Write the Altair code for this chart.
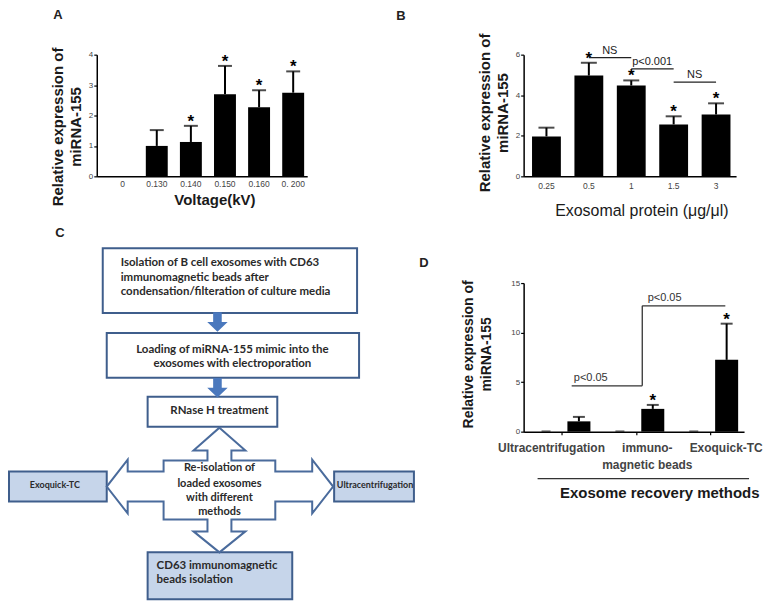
import altair as alt
import pandas as pd

FONT = "Liberation Sans"
FLOW_FONT = "Lato"

# ---------------- Panel A : voltage ----------------
a_voltage = ["0", "0.130", "0.140", "0.150", "0.160", "0. 200"]
a_mean = [0.0, 1.00, 1.13, 2.70, 2.27, 2.75]
a_err = [0.0, 0.52, 0.53, 0.93, 0.56, 0.70]
a_star = ["", "", "*", "*", "*", "*"]

# ---------------- Panel B : exosomal protein ----------------
b_protein = ["0.25", "0.5", "1", "1.5", "3"]
b_mean = [1.97, 4.97, 4.48, 2.56, 3.05]
b_err = [0.43, 0.63, 0.25, 0.40, 0.55]
b_star = ["", "*", "*", "*", "*"]
b_cmp_from = ["0.5", "1", "1.5"]
b_cmp_to = ["1", "1.5", "3"]
b_cmp_level = [5.85, 5.30, 4.65]
b_cmp_label = ["NS", "p<0.001", "NS"]

# ---------------- Panel D : recovery methods ----------------
d_methods = ["Ultracentrifugation", "immuno-magnetic beads", "Exoquick-TC"]
d_control = [0.05, 0.05, 0.05]
d_loaded = [1.04, 2.30, 7.25]
d_loaded_err = [0.45, 0.40, 3.65]
d_star = ["", "*", "*"]
d_cmp_from = ["Ultracentrifugation", "immuno-magnetic beads"]
d_cmp_to = ["immuno-magnetic beads", "Exoquick-TC"]
d_cmp_level = [4.63, 12.7]
d_cmp_label = ["p<0.05", "p<0.05"]

# ---------------- Panel C : flow chart (diagram units) ----------------
flow_box_x1 = [103, 107, 148, 9, 335, 148]
flow_box_y1 = [248, 333, 397, 472, 472, 553]
flow_box_x2 = [358, 360, 278, 107, 415, 293]
flow_box_y2 = [313, 378, 427, 502, 502, 600]
flow_box_kind = ["step", "step", "step", "method", "method", "method"]

flow_cross_x = [220, 246, 232, 232, 276, 276, 313, 313, 334, 313, 313, 276, 276, 232, 232, 246,
                220, 194, 208, 208, 164, 164, 128, 128, 107, 128, 128, 164, 164, 208, 208, 194]
flow_cross_y = [428, 451, 451, 461, 461, 472, 472, 460, 487, 514, 502, 502, 520, 520, 532, 532,
                553, 532, 532, 520, 520, 502, 502, 514, 487, 460, 472, 472, 461, 461, 451, 451]

flow_arrow_x = [218, 218]
flow_arrow_y = [322, 388]

# step-box texts, left aligned
flow_left_text = ["Isolation of B cell exosomes with CD63", "immunomagnetic beads after",
                  "condensation/filteration of culture media", "CD63 immunomagnetic", "beads isolation"]
flow_left_x = [121, 121, 121, 157, 157]
flow_left_y = [263, 277.5, 292, 567, 581]

# step-box texts, centred
flow_step_text = ["Loading of miRNA-155 mimic into the", "exosomes with electroporation",
                  "RNase H treatment"]
flow_step_x = [233, 233, 220]
flow_step_y = [350, 364.5, 411]

# text inside the four-way arrow
flow_cross_text = ["Re-isolation of", "loaded exosomes", "with different", "methods"]
flow_cross_tx = [220, 220, 220, 220]
flow_cross_ty = [468, 484, 499, 513]

# method boxes
flow_method_text = ["Exoquick-TC", "Ultracentrifugation"]
flow_method_x = [55, 376]
flow_method_y = [485, 485]

YTITLE = ["Relative expression of", "miRNA-155"]


def y_axis(values, tx, ty, size):
    return alt.Axis(values=values, title=YTITLE, titleX=tx, titleY=ty, titleAngle=270,
                    titleAlign="center", titleBaseline="middle", titleFontSize=size,
                    titleFontWeight="bold", titleLineHeight=18, labelFontSize=8,
                    labelPadding=1, tickSize=3, grid=False)


def panel_letter(letter, px, py):
    return alt.Chart(pd.DataFrame({"t": [letter]})).mark_text(
        font=FONT, fontSize=13, fontWeight="bold", baseline="middle", align="center", color="#222"
    ).encode(text="t:N", x=alt.value(px), y=alt.value(py))


def bar_panel(cats, means, errs, stars, ymax, xscale, xaxis, yaxis, cap, letter):
    df = pd.DataFrame({"c": cats, "m": means, "e": errs, "s": stars})
    df["top"] = df["m"] + df["e"]
    ys = lambda: alt.Scale(domain=[0, ymax], nice=False)
    xs = lambda: alt.Scale(domain=cats, **xscale)
    X = lambda: alt.X("c:N", scale=xs(), axis=xaxis)
    base = alt.Chart(df)
    bars = base.mark_bar(color="black").encode(x=X(), y=alt.Y("m:Q", scale=ys(), axis=yaxis))
    err = base.transform_filter("datum.e > 0").mark_rule(color="black", strokeWidth=2).encode(
        x=X(), y=alt.Y("m:Q", scale=ys(), axis=yaxis), y2="top:Q")
    caps = base.transform_filter("datum.e > 0").mark_tick(color="black", thickness=2, size=cap).encode(
        x=X(), y=alt.Y("top:Q", scale=ys(), axis=yaxis))
    star = base.mark_text(font=FONT, fontSize=17, fontWeight="bold", baseline="alphabetic",
                          color="black", dy=1).encode(
        x=X(), y=alt.Y("top:Q", scale=ys(), axis=yaxis), text="s:N")
    return [bars, err, caps, star, letter], xs, ys


# ---------- A ----------
xaxisA = alt.Axis(title="Voltage(kV)", titleX=118, titleY=23, titleBaseline="middle", titleAlign="center",
                  titleFontSize=15, titleFontWeight="bold", ticks=False, labelAngle=0, labelPadding=3,
                  labelFontSize=8.5)
yaxisA = y_axis([0, 1, 2, 3, 4], -39, 72, 15)
layersA, _, _ = bar_panel(a_voltage, a_mean, a_err, a_star, 4,
                          dict(paddingInner=0.357, paddingOuter=0.264, align=0.83),
                          xaxisA, yaxisA, 14, panel_letter("A", -39, -40))
chartA = alt.layer(*layersA).properties(width=211, height=122)

# ---------- B ----------
xaxisB = alt.Axis(title="Exosomal protein (μg/μl)", titleX=118, titleY=34, titleBaseline="middle",
                  titleAlign="center", titleFontSize=16, titleFontWeight="normal", ticks=False,
                  labelAngle=0, labelPadding=5, labelFontSize=8.5)
yaxisB = y_axis([0, 2, 4, 6], -39, 58, 15)
layersB, xsB, ysB = bar_panel(b_protein, b_mean, b_err, b_star, 6,
                              dict(paddingInner=0.32, paddingOuter=0.165, align=0.6),
                              xaxisB, yaxisB, 16, panel_letter("B", -123, -39))
dfB = pd.DataFrame({"f": b_cmp_from, "t": b_cmp_to, "lv": b_cmp_level, "lab": b_cmp_label})
b_lines = alt.Chart(dfB).mark_rule(color="#222", strokeWidth=1.3).encode(
    x=alt.X("f:N", scale=xsB(), axis=xaxisB, bandPosition=0.5),
    x2=alt.X2("t:N", bandPosition=0.5),
    y=alt.Y("lv:Q", scale=ysB(), axis=yaxisB))
b_text = alt.Chart(dfB).mark_text(font=FONT, fontSize=11, baseline="bottom", dx=21, dy=-2,
                                  color="#222").encode(
    x=alt.X("f:N", scale=xsB(), axis=xaxisB),
    y=alt.Y("lv:Q", scale=ysB(), axis=yaxisB), text="lab:N")
chartB = alt.layer(*layersB, b_lines, b_text).properties(width=213, height=122)

# ---------- C (flow chart) ----------
fx = lambda: alt.Scale(domain=[97, 417], nice=False, zero=False)
fy = lambda: alt.Scale(domain=[283, 600], nice=False, zero=False, reverse=True)
FX = lambda f: alt.X(f, scale=fx(), axis=None)
FY = lambda f: alt.Y(f, scale=fy(), axis=None)
dfBox = pd.DataFrame({"x1": flow_box_x1, "y1": flow_box_y1, "x2": flow_box_x2, "y2": flow_box_y2,
                      "kind": flow_box_kind})
boxes = alt.Chart(dfBox).mark_rect(stroke="#3F5E8C", strokeWidth=2).encode(
    x=FX("x1:Q"), x2="x2:Q", y=FY("y1:Q"), y2="y2:Q",
    fill=alt.Fill("kind:N", scale=alt.Scale(domain=["step", "method"], range=["#FFFFFF", "#C6D5EA"]),
                  legend=None))
dfCross = pd.DataFrame({"x": flow_cross_x, "y": flow_cross_y, "i": list(range(len(flow_cross_x)))})
cross = alt.Chart(dfCross).mark_line(interpolate="linear-closed", color="#4A6B9C", strokeWidth=2).encode(
    x=FX("x:Q"), y=FY("y:Q"), order=alt.Order("i:Q"))
ARROW = "M-0.42,-0.95 L0.42,-0.95 L0.42,0 L1,0 L0,0.95 L-1,0 L-0.42,0 Z"
dfArrow = pd.DataFrame({"x": flow_arrow_x, "y": flow_arrow_y})
arrows = alt.Chart(dfArrow).mark_point(shape=ARROW, size=420, filled=True, color="#4A78BD",
                                       opacity=1).encode(x=FX("x:Q"), y=FY("y:Q"))


def flow_text(xs, ys, texts, size, align):
    d = pd.DataFrame({"x": xs, "y": ys, "t": texts})
    return alt.Chart(d).mark_text(font=FLOW_FONT, fontSize=size, fontWeight="bold", color="#2a2a2a",
                                  align=align, baseline="middle").encode(
        x=FX("x:Q"), y=FY("y:Q"), text="t:N")


ltext = flow_text(flow_left_x, flow_left_y, flow_left_text, 11.5, "left")
stext = flow_text(flow_step_x, flow_step_y, flow_step_text, 11.5, "center")
xtext = flow_text(flow_cross_tx, flow_cross_ty, flow_cross_text, 11, "center")
mtext = flow_text(flow_method_x, flow_method_y, flow_method_text, 9, "center")
dfC = pd.DataFrame({"x": [60], "y": [233], "t": ["C"]})
cletter = alt.Chart(dfC).mark_text(font=FONT, fontSize=13, fontWeight="bold", color="#222",
                                   baseline="middle").encode(x=FX("x:Q"), y=FY("y:Q"), text="t:N")
chartC = alt.layer(boxes, cross, arrows, ltext, stext, xtext, mtext, cletter).properties(
    width=320, height=317)

# ---------- D ----------
dfD = pd.DataFrame({"method": d_methods, "control": d_control, "loaded": d_loaded,
                    "err": d_loaded_err, "star": d_star})
dfD["top"] = dfD["loaded"] + dfD["err"]
xsD = lambda: alt.Scale(domain=d_methods, paddingInner=0.11, paddingOuter=0.047, align=0.86)
ysD = lambda: alt.Scale(domain=[0, 15], nice=False)
offD = lambda: alt.XOffset("kind:N", scale=alt.Scale(domain=["control", "loaded"], paddingInner=0.3,
                                                     paddingOuter=0.15))
xaxisD = alt.Axis(
    title="Exosome recovery methods", titleX=136, titleY=61, titleBaseline="middle", titleAlign="center",
    titleFontSize=15, titleFontWeight="bold", labelAngle=0, labelFontSize=12, labelFontWeight="bold",
    labelPadding=8, labelLineHeight=17, tickSize=3,
    labelExpr="datum.value == 'immuno-magnetic beads' ? ['immuno-', 'magnetic beads'] : datum.value",
    labelOffset={"condition": [{"test": "datum.value == 'Ultracentrifugation'", "value": -11},
                               {"test": "datum.value == 'Exoquick-TC'", "value": 16}], "value": 11})
yaxisD = y_axis([0, 5, 10, 15], -55, 71, 14)
XD = lambda bp=0.5: alt.X("method:N", scale=xsD(), axis=xaxisD, bandPosition=bp)
baseD = alt.Chart(dfD)
d_bars = baseD.transform_calculate(kind="'loaded'").mark_bar(color="black").encode(
    x=alt.X("method:N", scale=xsD(), axis=xaxisD), xOffset=offD(),
    y=alt.Y("loaded:Q", scale=ysD(), axis=yaxisD))
d_ctrl = baseD.transform_calculate(kind="'control'").mark_tick(color="#222", thickness=1.5, size=9).encode(
    x=XD(), xOffset=offD(), y=alt.Y("control:Q", scale=ysD(), axis=yaxisD))
d_err = baseD.transform_calculate(kind="'loaded'").mark_rule(color="black", strokeWidth=2).encode(
    x=XD(), xOffset=offD(), y=alt.Y("loaded:Q", scale=ysD(), axis=yaxisD), y2="top:Q")
d_cap = baseD.transform_calculate(kind="'loaded'").mark_tick(color="black", thickness=2, size=12).encode(
    x=XD(), xOffset=offD(), y=alt.Y("top:Q", scale=ysD(), axis=yaxisD))
d_starL = baseD.transform_calculate(kind="'loaded'").mark_text(
    font=FONT, fontSize=17, fontWeight="bold", baseline="alphabetic", color="black", dy=1).encode(
    x=XD(), xOffset=offD(), y=alt.Y("top:Q", scale=ysD(), axis=yaxisD), text="star:N")

dfDc = pd.DataFrame({"f": d_cmp_from, "t": d_cmp_to, "lv": d_cmp_level, "lab": d_cmp_label,
                     "idx": [0, 1]})
dfDc["prev"] = dfDc["lv"].shift(1)
lower = alt.Chart(dfDc).transform_filter("datum.idx == 0").mark_rule(color="#333", strokeWidth=1.3).encode(
    x=alt.X("f:N", scale=xsD(), axis=xaxisD, bandPosition=0.64),
    x2=alt.X2("t:N", bandPosition=0.59), y=alt.Y("lv:Q", scale=ysD(), axis=yaxisD))
upper = alt.Chart(dfDc).transform_filter("datum.idx == 1").mark_rule(color="#333", strokeWidth=1.3).encode(
    x=alt.X("f:N", scale=xsD(), axis=xaxisD, bandPosition=0.59),
    x2=alt.X2("t:N", bandPosition=0.73), y=alt.Y("lv:Q", scale=ysD(), axis=yaxisD))
riser = alt.Chart(dfDc).transform_filter("datum.idx == 1").mark_rule(color="#333", strokeWidth=1.3).encode(
    x=alt.X("f:N", scale=xsD(), axis=xaxisD, bandPosition=0.59),
    y=alt.Y("prev:Q", scale=ysD(), axis=yaxisD), y2="lv:Q")
d_ptext = alt.Chart(dfDc).mark_text(font=FONT, fontSize=11, color="#333", baseline="middle", dy=-8).encode(
    x=alt.X("f:N", scale=xsD(), axis=xaxisD, bandPosition=0.93),
    y=alt.Y("lv:Q", scale=ysD(), axis=yaxisD), text="lab:N")
d_sep = alt.Chart(pd.DataFrame({"a": [0]})).mark_rule(color="#333", strokeWidth=1.3).encode(
    x=alt.value(14), x2=alt.value(226), y=alt.value(196))
chartD = alt.layer(d_bars, d_ctrl, d_err, d_cap, d_starL, lower, upper, riser, d_ptext, d_sep,
                   panel_letter("D", -100, -20)).properties(width=221, height=149)

chart = alt.concat(chartA, chartB, chartC, chartD, columns=2,
                   spacing={"row": 107, "column": 108}, bounds="flush").properties(
    padding=0, background="white"
).configure_view(strokeWidth=0).configure_axis(
    domainColor="black", domainWidth=1.5, tickColor="black", tickWidth=1.2,
    labelColor="#444", titleColor="#1a1a1a", labelFont=FONT, titleFont=FONT, grid=False
)

chart.save("out.html", embed_options={"renderer": "svg", "actions": False})
